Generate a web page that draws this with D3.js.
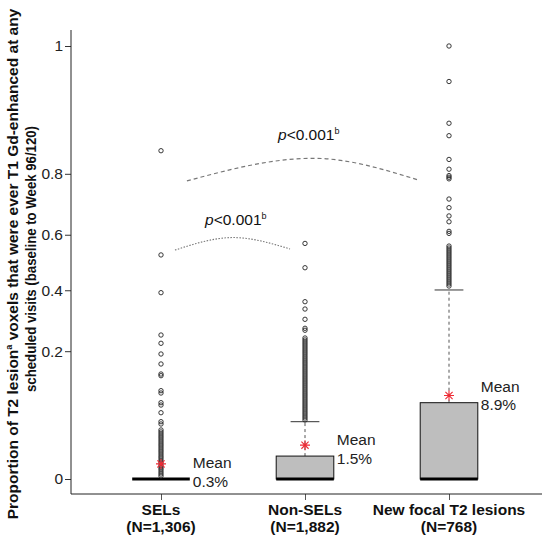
<!DOCTYPE html>
<html><head><meta charset="utf-8">
<script src="https://cdn.jsdelivr.net/npm/d3@7"></script>
<style>
body{margin:0;background:#fff}
svg{display:block}
text{font-family:"Liberation Sans",Arial,Helvetica,sans-serif}
</style>
</head><body>
<svg id="chart" width="542" height="543"></svg>
<script>
// ---------------- data ----------------
const categories = ["SELs", "Non-SELs", "New focal T2 lesions"];
const nLabels = ["(N=1,306)", "(N=1,882)", "(N=768)"];
const q1Values = [0, 0, 0];
const medianValues = [0, 0, 0];
const q3Values = [0, 0.0069, 0.0747];
const whiskerHigh = [0, 0.0426, 0.401];
const meanValues = [0.003, 0.015, 0.089];
const meanLabels = ["0.3%", "1.5%", "8.9%"];

const outliersSELs = [0.8625, 0.5274, 0.3914, 0.2489, 0.2234, 0.1919, 0.1642, 0.1382, 0.134,
  0.0992, 0.0942, 0.0747, 0.0703, 0.0567, 0.0426, 0.0393, 0.0313, 0.0288, 0.0264, 0.0241,
  0.022, 0.0199, 0.0179, 0.016, 0.0143, 0.0126, 0.011, 0.0096, 0.0082, 0.0069, 0.0058,
  0.0047, 0.0038, 0.003, 0.0022, 0.0016, 0.0011, 0.00065, 0.00033, 0.00012];
const outliersNonSELs = [0.569, 0.481, 0.3597, 0.3344, 0.2997, 0.2703, 0.264, 0.2396, 0.2334,
  0.2273, 0.2213, 0.2153, 0.2093, 0.2034, 0.1976, 0.1919, 0.1861, 0.1805, 0.175, 0.1695,
  0.1642, 0.1588, 0.1536, 0.1484, 0.1433, 0.1382, 0.1332, 0.1283, 0.1235, 0.1188, 0.1142,
  0.1096, 0.1051, 0.1007, 0.0963, 0.0921, 0.088, 0.0839, 0.0799, 0.076, 0.0722, 0.0685,
  0.0649, 0.0614, 0.0579, 0.0546, 0.0513, 0.0482, 0.0451];
const outliersNewFocal = [1.0, 0.9835, 0.9235, 0.8978, 0.840, 0.8132, 0.7948, 0.790, 0.7852,
  0.7222, 0.6937, 0.6657, 0.6456, 0.612, 0.6048, 0.5595, 0.5523, 0.5451, 0.538, 0.5308,
  0.5236, 0.5164, 0.5091, 0.5019, 0.4947, 0.4875, 0.4802, 0.473, 0.4657, 0.4585, 0.4513,
  0.444, 0.4368, 0.4296, 0.4224, 0.4151];
const outlierSets = [outliersSELs, outliersNonSELs, outliersNewFocal];

const yTickValues = [0, 0.2, 0.4, 0.6, 0.8, 1];
const yTickLabels = ["0", "0.2", "0.4", "0.6", "0.8", "1"];

// comparison brackets (x in category index units, y in proportion units)
const bracketLowerX = [0.097, 0.5, 0.896];
const bracketLowerY = [0.545, 0.59, 0.549];
const bracketUpperX = [0.18, 1.056, 1.785];
const bracketUpperY = [0.779, 0.843, 0.782];
const pLabelX = [0.306, 0.8125];
const pLabelY = [0.634, 0.888];
const pLabelText = ["<0.001", "<0.001"];

// ---------------- layout ----------------
const W = 542, H = 543;
const plotLeft = 71, plotRight = 542, plotTop = 30, plotBottom = 494;

const svg = d3.select("#chart");

// arcsine square-root scale
const theta = p => Math.asin(Math.sqrt(Math.max(0, Math.min(1, p))));
const yLin = d3.scaleLinear().domain([0, Math.PI / 2]).range([479, 46]);
const y = p => yLin(theta(p));

const x = d3.scalePoint().domain(categories).range([89, 521]).padding(0.5);
const boxW = x.step() * 0.4;
const xIdx = d3.scaleLinear().domain([0, categories.length - 1])
  .range([x(categories[0]), x(categories[categories.length - 1])]);

// ---------------- axes ----------------
const yAxis = svg.append("g").attr("transform", `translate(${plotLeft},0)`)
  .call(d3.axisLeft(yLin).tickValues(yTickValues.map(theta))
    .tickFormat((d, i) => yTickLabels[i]).tickSize(6).tickPadding(2));
yAxis.select(".domain").remove();
yAxis.selectAll("text").attr("font-size", 15.5).attr("fill", "#222")
  .style("font-family", '"Liberation Sans",Arial,sans-serif');
yAxis.selectAll("line").attr("stroke", "#333");

const xAxis = svg.append("g").attr("transform", `translate(0,${plotBottom})`)
  .call(d3.axisBottom(x).tickSize(6).tickFormat(""));
xAxis.select(".domain").remove();
xAxis.selectAll("line").attr("stroke", "#555");

svg.append("line").attr("x1", plotLeft).attr("x2", plotLeft)
  .attr("y1", plotTop).attr("y2", plotBottom).attr("stroke", "#222").attr("stroke-width", 1);
svg.append("line").attr("x1", plotLeft).attr("x2", plotRight)
  .attr("y1", plotBottom).attr("y2", plotBottom).attr("stroke", "#222").attr("stroke-width", 1);

// category labels
categories.forEach((c, i) => {
  const t = svg.append("text").attr("text-anchor", "middle")
    .attr("font-size", 15.5).attr("font-weight", "bold").attr("fill", "#111");
  t.append("tspan").attr("x", x(c)).attr("y", 515).text(c);
  t.append("tspan").attr("x", x(c)).attr("y", 532).text(nLabels[i]);
});

// y axis title
const yt1 = svg.append("text").attr("transform", "rotate(-90)")
  .attr("text-anchor", "middle").attr("font-weight", "bold").attr("font-size", 15.5).attr("fill", "#111")
  .attr("x", -264).attr("y", 18);
yt1.append("tspan").text("Proportion of T2 lesion");
yt1.append("tspan").attr("font-size", 9).attr("dy", -6).text("a");
yt1.append("tspan").attr("dy", 6).text(" voxels that were ever T1 Gd-enhanced at any");
svg.append("text").attr("transform", "rotate(-90)")
  .attr("text-anchor", "middle").attr("font-weight", "bold").attr("font-size", 14.5).attr("fill", "#111")
  .attr("x", -259).attr("y", 36)
  .attr("textLength", 266).attr("lengthAdjust", "spacingAndGlyphs")
  .text("scheduled visits (baseline to Week 96/120)");

// ---------------- boxes ----------------
categories.forEach((c, i) => {
  const cx = x(c);
  const g = svg.append("g");
  if (whiskerHigh[i] > q3Values[i]) {
    g.append("line").attr("x1", cx).attr("x2", cx)
      .attr("y1", y(q3Values[i])).attr("y2", y(whiskerHigh[i]))
      .attr("stroke", "#555").attr("stroke-width", 1).attr("stroke-dasharray", "3,3");
    g.append("line").attr("x1", cx - boxW / 4).attr("x2", cx + boxW / 4)
      .attr("y1", y(whiskerHigh[i])).attr("y2", y(whiskerHigh[i]))
      .attr("stroke", "#333").attr("stroke-width", 1);
  }
  if (q3Values[i] > q1Values[i]) {
    g.append("rect").attr("x", cx - boxW / 2).attr("y", y(q3Values[i]))
      .attr("width", boxW).attr("height", y(q1Values[i]) - y(q3Values[i]))
      .attr("fill", "#bebebe").attr("stroke", "#111").attr("stroke-width", 1);
  }
  g.append("line").attr("x1", cx - boxW / 2).attr("x2", cx + boxW / 2)
    .attr("y1", y(medianValues[i])).attr("y2", y(medianValues[i]))
    .attr("stroke", "#000").attr("stroke-width", 3);
  g.selectAll("circle").data(outlierSets[i]).join("circle")
    .attr("cx", cx).attr("cy", d => y(d)).attr("r", 2.2)
    .attr("fill", "none").attr("stroke", "#222").attr("stroke-width", 0.9);
  const my = y(meanValues[i]), s = 5, sd = 3.6;
  g.append("path")
    .attr("d", `M${cx - s},${my}L${cx + s},${my}M${cx},${my - s}L${cx},${my + s}` +
      `M${cx - sd},${my - sd}L${cx + sd},${my + sd}M${cx - sd},${my + sd}L${cx + sd},${my - sd}`)
    .attr("stroke", "#ee2b35").attr("stroke-width", 1.1).attr("fill", "none");
  const lx = cx + boxW / 2 + 3, qy = y(q3Values[i]);
  g.append("text").attr("x", lx).attr("y", qy - 11).attr("font-size", 15.5).attr("fill", "#222").text("Mean");
  g.append("text").attr("x", lx).attr("y", qy + 7.5).attr("font-size", 15.5).attr("fill", "#222").text(meanLabels[i]);
});

// ---------------- comparison brackets ----------------
const bline = d3.line().curve(d3.curveMonotoneX);
const lowerPts = bracketLowerX.map((v, i) => [xIdx(v), y(bracketLowerY[i])]);
const upperPts = bracketUpperX.map((v, i) => [xIdx(v), y(bracketUpperY[i])]);
svg.append("path").attr("d", bline(lowerPts)).attr("fill", "none")
  .attr("stroke", "#777").attr("stroke-width", 1.1).attr("stroke-dasharray", "1.5,1.5");
svg.append("path").attr("d", bline(upperPts)).attr("fill", "none")
  .attr("stroke", "#777").attr("stroke-width", 1.2).attr("stroke-dasharray", "4,3");

pLabelX.forEach((v, i) => {
  const t = svg.append("text").attr("x", xIdx(v)).attr("y", y(pLabelY[i]))
    .attr("font-size", 15.5).attr("fill", "#111");
  t.append("tspan").attr("font-style", "italic").text("p");
  t.append("tspan").text(pLabelText[i]);
  t.append("tspan").attr("font-size", 9).attr("dy", -6).text("b");
});
</script>
</body></html>
